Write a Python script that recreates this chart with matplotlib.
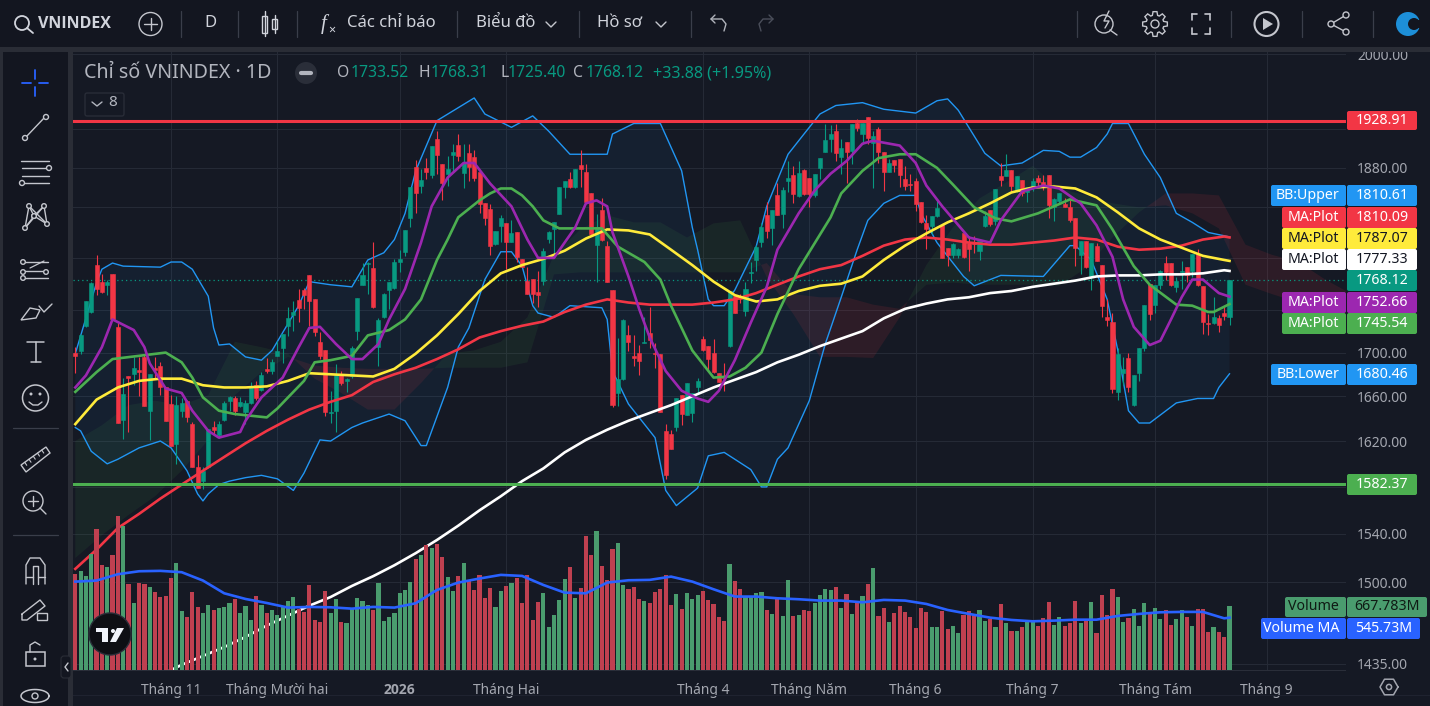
import matplotlib
matplotlib.use('Agg')
import matplotlib.pyplot as plt
import numpy as np
from matplotlib.patches import Rectangle, Circle, FancyBboxPatch, Polygon
from matplotlib.ticker import NullLocator, NullFormatter

plt.rcParams['font.family'] = ['Noto Sans', 'DejaVu Sans']

# daily candles
opens = [1700,1701,1725,1738,1783,1767,1764,1774,1724,1639,1678,1680,1684,1696,1647,1686,1688,1668,1653,1617,
         1647,1656,1635,1597,1585,1597,1632,1625,1639,1656,1658,1651,1646,1654,1670,1666,1685,1683,1697,1704,
         1725,1735,1749,1759,1773,1750,1710,1702,1645,1647,1680,1674,1678,1720,1764,1784,1780,1705,1733,1759,
         1761,1786,1796,1829,1881,1862,1880,1873,1910,1884,1874,1893,1904,1875,1895,1891,1876,1844,1838,1804,
         1821,1824,1806,1815,1789,1768,1770,1757,1768,1809,1818,1833,1861,1869,1860,1883,1876,1854,1803,1837,
         1802,1759,1663,1676,1716,1697,1700,1709,1718,1700,1699,1629,1626,1632,1661,1643,1645,1668,1713,1706,
         1700,1681,1678,1706,1753,1753,1739,1775,1788,1806,1832,1819,1852,1833,1867,1873,1851,1878,1870,1852,
         1880,1896,1910,1918,1891,1907,1897,1927,1915,1933,1906,1920,1896,1876,1888,1889,1869,1864,1867,1845,
         1824,1821,1831,1822,1800,1793,1793,1814,1805,1805,1797,1821,1837,1826,1872,1872,1878,1856,1868,1855,
         1859,1870,1866,1873,1840,1846,1843,1840,1829,1793,1807,1772,1802,1783,1733,1729,1664,1681,1695,1652,
         1681,1704,1765,1745,1764,1785,1785,1762,1776,1781,1777,1794,1763,1728,1728,1732,1737,1733.52]
highs = [1705,1717,1748,1767,1793,1774,1769,1774,1728,1677,1678,1696,1696,1699,1680,1696,1691,1668,1661,1660,
         1658,1657,1637,1608,1597,1631,1638,1638,1656,1660,1660,1659,1657,1673,1674,1682,1695,1694,1711,1717,
         1743,1748,1760,1761,1773,1750,1719,1702,1665,1689,1683,1677,1706,1751,1785,1786,1806,1732,1756,1767,
         1789,1798,1817,1860,1888,1879,1890,1903,1918,1884,1892,1905,1915,1905,1905,1898,1876,1844,1843,1816,
         1832,1824,1827,1815,1789,1781,1770,1777,1800,1816,1825,1860,1867,1876,1879,1898,1884,1854,1833,1849,
         1807,1759,1714,1731,1726,1716,1707,1733,1743,1709,1699,1635,1630,1658,1661,1672,1663,1677,1715,1706,
         1713,1681,1690,1758,1753,1755,1767,1786,1803,1824,1845,1837,1865,1860,1887,1882,1887,1879,1870,1874,
         1890,1925,1924,1926,1910,1907,1925,1931,1927,1933,1918,1922,1896,1889,1888,1889,1882,1874,1870,1845,
         1832,1831,1847,1822,1800,1805,1800,1814,1811,1811,1807,1836,1837,1858,1885,1894,1878,1872,1868,1860,
         1870,1873,1873,1873,1849,1854,1849,1847,1829,1807,1807,1805,1805,1783,1750,1737,1704,1696,1700,1679,
         1704,1745,1765,1764,1778,1792,1785,1771,1787,1781,1794,1799,1763,1736,1752,1735,1744,1768.31]
lows = [1681,1699,1724,1737,1754,1756,1754,1731,1636,1622,1628,1670,1660,1651,1621,1676,1661,1638,1616,1600,
        1641,1637,1597,1579,1578,1596,1625,1623,1638,1647,1643,1650,1635,1653,1657,1665,1681,1680,1697,1690,
        1715,1720,1729,1741,1725,1715,1694,1642,1636,1628,1670,1664,1677,1712,1764,1755,1742,1688,1732,1741,
        1760,1776,1792,1820,1834,1854,1869,1870,1874,1847,1862,1877,1887,1859,1867,1867,1834,1822,1793,1803,
        1806,1779,1806,1786,1781,1755,1747,1743,1764,1805,1793,1833,1849,1859,1859,1860,1845,1812,1767,1807,
        1767,1650,1651,1675,1701,1688,1679,1709,1704,1686,1646,1587,1613,1629,1634,1643,1637,1663,1701,1683,
        1681,1673,1665,1705,1737,1747,1734,1766,1777,1801,1810,1803,1832,1819,1855,1844,1850,1852,1840,1850,
        1869,1896,1896,1887,1874,1865,1884,1918,1905,1905,1859,1885,1856,1876,1876,1861,1857,1856,1836,1824,
        1799,1813,1830,1790,1782,1790,1790,1790,1777,1795,1788,1820,1821,1822,1862,1872,1856,1855,1851,1845,
        1856,1860,1857,1829,1826,1843,1840,1825,1782,1774,1780,1759,1787,1733,1725,1663,1657,1670,1664,1651,
        1674,1701,1730,1737,1760,1769,1763,1757,1760,1767,1771,1763,1717,1716,1727,1719,1730,1725.40]
closes = [1697,1716,1748,1766,1760,1757,1767,1731,1636,1662,1677,1686,1682,1651,1680,1684,1668,1638,1616,1652,
          1654,1641,1597,1579,1594,1631,1630,1635,1654,1659,1647,1655,1654,1668,1658,1679,1683,1691,1701,1717,
          1732,1738,1742,1754,1748,1719,1697,1646,1646,1679,1672,1676,1704,1751,1773,1785,1743,1730,1755,1767,
          1786,1789,1817,1860,1854,1868,1876,1903,1893,1865,1879,1896,1892,1885,1881,1870,1843,1829,1802,1816,
          1829,1806,1814,1791,1781,1755,1755,1754,1797,1815,1825,1860,1867,1860,1879,1879,1845,1813,1820,1808,
          1767,1652,1676,1730,1710,1695,1692,1710,1712,1699,1646,1590,1613,1658,1644,1672,1663,1674,1702,1694,
          1682,1673,1677,1758,1737,1750,1760,1776,1801,1820,1816,1837,1832,1857,1870,1853,1875,1853,1853,1874,
          1890,1909,1915,1895,1900,1896,1925,1921,1927,1911,1913,1896,1876,1885,1883,1873,1862,1863,1843,1825,
          1818,1831,1839,1790,1793,1804,1799,1791,1799,1804,1807,1831,1823,1858,1868,1878,1862,1872,1854,1860,
          1867,1866,1862,1842,1848,1854,1840,1827,1800,1807,1781,1805,1787,1744,1730,1667,1699,1685,1668,1679,
          1704,1745,1736,1764,1777,1776,1764,1768,1777,1773,1794,1764,1729,1727,1733,1726,1734,1768.12]
volumes = [1002,1034,981,1208,1472,1096,1075,1201,1608,1503,898,699,908,898,867,814,762,773,960,1117,
           616,553,814,658,595,679,626,647,658,699,741,595,668,522,773,679,595,626,574,658,
           720,762,637,606,887,522,501,825,595,741,501,491,637,752,720,679,626,908,512,553,
           595,804,835,919,1159,1201,1305,1274,1315,1180,971,825,981,1117,940,835,992,752,856,658,
           825,877,908,960,699,992,522,710,804,449,574,731,950,1075,752,856,1399,1201,1451,1086,
           940,1263,1326,887,846,867,741,720,699,814,846,992,679,793,637,804,741,783,825,731,
           689,553,512,1107,929,846,773,773,804,814,626,585,752,564,940,564,574,626,616,699,
           783,846,835,867,647,793,585,699,773,898,1065,564,647,501,595,668,606,553,438,647,
           606,449,449,616,428,459,386,574,616,585,626,512,532,449,689,491,407,407,449,512,
           512,459,543,710,470,553,459,491,720,491,512,710,386,783,574,846,762,501,543,637,
           459,699,592,647,532,626,470,532,626,553,459,637,637,397,449,397,345,667.783]

# bands and the two short averages, read at the bars where the curve bends
upper_bars = [0,4,5,7,9,16,18,20,22,25,26,27,29,32,35,37,42,44,48,52,55,58,60,62,64,68,75,77,82,86,89,93,100,101,105,
              110,114,116,117,119,120,122,124,128,130,134,137,140,143,148,152,158,162,164,166,171,174,178,182,185,
              187,189,192,194,195,198,201,204,207,210,213,217]
bb_upper = [1699,1766,1779,1785,1782,1781,1786,1786,1779,1753,1723,1707,1708,1696,1693,1702,1744,1767,1764,1762,1788,
            1795,1808,1834,1877,1929,1953,1936,1922,1934,1918,1894,1894,1915,1926,1926,1877,1820,1798,1750,1744,1744,
            1759,1801,1841,1894,1915,1936,1945,1948,1941,1937,1950,1952,1940,1895,1882,1885,1898,1897,1891,1891,1901,
            1915,1926,1926,1894,1870,1834,1825,1815,1810.61]
lower_bars = [0,1,3,6,7,8,12,16,18,21,23,24,25,27,29,32,35,38,41,43,46,48,52,54,59,62,65,66,70,72,74,77,80,82,84,86,87,
              90,93,99,100,101,104,109,111,113,117,119,122,124,127,129,130,132,134,138,141,144,147,149,152,155,158,159,
              162,167,169,174,182,187,188,191,194,196,198,200,202,207,211,214,215,217]
bb_lower = [1632,1629,1611,1600,1602,1604,1614,1620,1614,1594,1574,1568,1574,1582,1585,1588,1590,1587,1577,1592,1621,
            1620,1632,1636,1644,1638,1616,1616,1668,1705,1723,1769,1796,1796,1782,1744,1737,1733,1744,1742,1731,1683,
            1653,1623,1577,1564,1579,1607,1610,1604,1595,1580,1580,1604,1614,1656,1708,1752,1798,1827,1844,1852,1852,
            1834,1805,1772,1763,1773,1772,1802,1802,1788,1750,1702,1647,1636,1636,1654,1658,1658,1668,1680.46]
purple_bars = [0,2,5,7,11,13,14,17,20,22,25,27,31,32,35,39,42,44,46,49,52,54,57,59,62,65,67,70,73,75,78,82,85,87,90,92,
               94,96,98,100,101,104,106,108,111,114,117,119,121,124,127,130,132,136,139,142,145,148,150,155,158,160,163,
               168,172,174,178,182,185,189,192,195,197,199,202,204,206,208,210,212,215,217]
ma_purple = [1668,1679,1705,1731,1721,1705,1690,1667,1663,1647,1629,1623,1628,1638,1659,1677,1705,1723,1724,1708,1694,
             1694,1708,1731,1760,1805,1841,1870,1885,1885,1864,1841,1808,1790,1790,1805,1820,1844,1847,1841,1815,1772,
             1741,1714,1683,1665,1658,1655,1665,1693,1728,1762,1798,1834,1857,1874,1887,1905,1908,1903,1885,1862,1841,
             1810,1805,1827,1856,1862,1859,1844,1822,1791,1750,1724,1707,1711,1731,1752,1769,1769,1756,1752.66]
green_bars = [0,4,7,12,17,20,22,24,27,30,36,38,40,43,45,48,52,55,59,62,65,68,70,72,76,78,80,82,84,86,88,91,99,102,107,
              110,112,116,120,123,126,129,132,136,142,144,148,151,155,158,162,165,169,173,176,181,187,192,195,199,202,
              207,210,213,214,217]
ma_green = [1664,1682,1694,1697,1700,1691,1677,1659,1647,1644,1641,1649,1659,1674,1691,1693,1697,1716,1721,1731,1750,
            1788,1808,1830,1847,1854,1859,1859,1852,1841,1827,1819,1819,1801,1786,1769,1744,1702,1677,1678,1686,1700,
            1736,1779,1830,1854,1877,1890,1894,1894,1880,1863,1840,1829,1826,1834,1848,1842,1818,1782,1764,1745,1744,
            1738,1738,1745.54]

# slower lines, read every fourth bar plus the last one
line_bars = list(range(0, 217, 4)) + [217]
ma_yellow = [1635,1657,1668,1674,1676,1676,1670,1668,1668,1669,1674,1681,1680,1679,1678,1685,1699,1716,1736,1758,
             1775,1783,1789,1797,1809,1818,1817,1813,1798,1783,1767,1754,1748,1750,1758,1763,1765,1772,1788,1802,
             1814,1825,1834,1844,1855,1860,1861,1859,1850,1835,1819,1808,1800,1792,1788,1787.07]
ma_red = [1511,1527,1545,1557,1570,1582,1594,1606,1618,1629,1639,1648,1655,1661,1673,1680,1686,1694,1703,1714,
          1720,1725,1729,1738,1745,1750,1747,1745,1745,1745,1747,1750,1756,1764,1772,1779,1783,1792,1802,1808,
          1810,1808,1805,1803,1803,1805,1807,1810,1808,1801,1798,1799,1802,1808,1811,1810.09]
# the long average only enters the picture from the fifth reading on
ma_white = [1426,1434,1441,1448,1456,1465,1473,1481,1488,1497,1505,1514,1524,1535,1547,1560,1572,1585,1596,1610,
            1621,1630,1638,1645,1652,1660,1668,1675,1682,1691,1698,1706,1713,1720,1732,1741,1746,1750,1752,1756,
            1758,1762,1765,1768,1772,1773,1773,1774,1774,1775,1778,1777.33]
vol_ma = [922,933,999,1030,1034,1020,933,800,741,699,651,658,654,640,658,651,696,835,912,954,
          992,981,887,807,800,912,936,940,974,922,842,766,766,748,738,724,724,706,731,724,
          689,626,585,546,522,508,515,525,525,564,585,602,606,606,539,545.73]

# cloud, read every fifth bar, runs on past the last candle
cloud_bars = list(range(0, 245, 5))
span_a = [1620,1634,1652,1656,1652,1661,1710,1705,1699,1676,1663,1648,1648,1672,1699,1702,1710,1733,1793,1818,
          1832,1825,1825,1810,1824,1827,1771,1736,1696,1696,1695,1733,1783,1820,1849,1865,1882,1859,1852,1844,
          1840,1842,1834,1819,1764,1755,1747,1741,1736]
span_b = [1520,1539,1556,1572,1594,1621,1661,1682,1696,1688,1686,1685,1685,1685,1686,1686,1686,1691,1774,1776,
          1776,1776,1776,1776,1776,1776,1785,1755,1752,1752,1745,1741,1764,1766,1764,1764,1764,1763,1780,1810,
          1835,1854,1854,1852,1803,1793,1786,1769,1755]

grid_prices = [2000,1920,1880,1840,1790,1740,1700,1660,1620,1580,1540,1500,1435]
hidden_ticks = [1920,1840,1790,1740,1580]
month_bars = [18,38,61,81,118,138,158,180,203,224]
month_labels = ['Tháng 11','Tháng Mười hai','2026','Tháng Hai','Tháng 4','Tháng Năm','Tháng 6','Tháng 7','Tháng Tám','Tháng 9']

BG = '#151924'
PANEL = '#131620'
GAP = '#2a2d36'
UP = '#089981'
DOWN = '#f23645'
TXT = '#d1d4dc'
AXT = '#a3a6af'

W, H = 1430, 706
fig = plt.figure(figsize=(W / 100, H / 100), dpi=100, facecolor=BG)
ax = fig.add_axes([73 / W, (H - 670) / H, (1346 - 73) / W, 620 / H], facecolor=BG)
ax.set_yscale('log')
ax.set_xlim(-0.43, 238.9)
ax.set_ylim(1430, 2004.7)
ax.yaxis.tick_right()
ax.yaxis.set_minor_locator(NullLocator())
ax.yaxis.set_minor_formatter(NullFormatter())
ax.set_yticks(grid_prices)
ax.set_yticklabels(['' if p in hidden_ticks else '%.2f' % p for p in grid_prices], fontsize=10, color=AXT)
ax.set_xticks(month_bars)
ax.set_xticklabels(month_labels, fontsize=10, color=AXT)
ax.get_xticklabels()[2].set_family('Open Sans')
ax.get_xticklabels()[2].set_fontweight('bold')
ax.tick_params(axis='both', length=0)
ax.tick_params(axis='y', pad=8)
ax.tick_params(axis='x', pad=9)
ax.grid(True, color='#252a36', lw=0.8)
ax.set_axisbelow(True)
for s in ax.spines.values():
    s.set_visible(False)

# cloud and bands
span_a_arr = np.array(span_a, float)
span_b_arr = np.array(span_b, float)
ax.fill_between(cloud_bars, span_a_arr, span_b_arr, where=span_a_arr >= span_b_arr, interpolate=True,
                color='#4caf50', alpha=0.09, lw=0, zorder=1)
ax.fill_between(cloud_bars, span_a_arr, span_b_arr, where=span_a_arr <= span_b_arr, interpolate=True,
                color='#f23645', alpha=0.11, lw=0, zorder=1)
ax.fill(upper_bars + lower_bars[::-1], bb_upper + bb_lower[::-1], color='#2196f3', alpha=0.06, lw=0, zorder=1)
ax.plot(upper_bars, bb_upper, color='#2196f3', lw=1.0, zorder=2)
ax.plot(lower_bars, bb_lower, color='#2196f3', lw=1.0, zorder=2)

# candles
bars = np.arange(len(closes))
o = np.array(opens)
c = np.array(closes)
cols = [UP if c[i] >= o[i] else DOWN for i in bars]
ax.vlines(bars, lows, highs, colors=cols, lw=0.8, zorder=3)
ax.bar(bars, np.abs(c - o), bottom=np.minimum(o, c), width=0.76, color=cols, edgecolor=cols, lw=0.4, zorder=3)

# moving averages
MA_W = 1.9
ax.plot(line_bars[4:], ma_white, color='#ffffff', lw=MA_W, zorder=4, solid_joinstyle='round')
ax.plot(line_bars, ma_red, color='#f23645', lw=MA_W, zorder=4, solid_joinstyle='round')
ax.plot(line_bars, ma_yellow, color='#ffeb3b', lw=MA_W, zorder=4, solid_joinstyle='round')
ax.plot(green_bars, ma_green, color='#4caf50', lw=MA_W, zorder=4, solid_joinstyle='round')
ax.plot(purple_bars, ma_purple, color='#9c27b0', lw=MA_W, zorder=4, solid_joinstyle='round')

# levels
ax.axhline(1928.91, color='#f23645', lw=2.2, zorder=5)
ax.axhline(1582.37, color='#4caf50', lw=2.2, zorder=5)
ax.axhline(closes[-1], color=UP, lw=0.9, ls=(0, (1, 2.5)), zorder=2)

# volume pane shares the same box and sits on top of the price lines
ax_vol = fig.add_axes(ax.get_position(), sharex=ax)
ax_vol.patch.set_visible(False)
ax_vol.set_ylim(0, 620 * 10.43)
ax_vol.axis('off')
vol_cols = ['#4a9c6e' if c[i] >= o[i] else '#bf4050' for i in bars]
ax_vol.bar(bars, volumes, width=0.78, color=vol_cols, lw=0, zorder=1)
ax_vol.plot(line_bars, vol_ma, color='#2962ff', lw=MA_W, zorder=2, solid_joinstyle='round')

# everything around the plot, drawn in picture pixels
ui = fig.add_axes([0, 0, 1, 1], facecolor='none', zorder=10)
ui.set_xlim(0, W)
ui.set_ylim(H, 0)
ui.axis('off')


def box(x0, y0, x1, y1, color, z=1):
    ui.add_patch(Rectangle((x0, y0), x1 - x0, y1 - y0, fc=color, ec='none', zorder=z))


def rbox(x0, y0, x1, y1, color, z=3):
    ui.add_patch(FancyBboxPatch((x0 + 2, y0 + 2), x1 - x0 - 4, y1 - y0 - 4, boxstyle='round,pad=2,rounding_size=2',
                                fc=color, ec='none', zorder=z))


def seg(pts, color='#c4c6cd', lw=1.0, z=5):
    xs, ys = zip(*pts)
    ui.plot(xs, ys, color=color, lw=lw, zorder=z, solid_capstyle='round')


def ring(x, y, r, color='#c4c6cd', lw=1.0, fc='none', z=5):
    ui.add_patch(Circle((x, y), r, fc=fc, ec=color, lw=lw, zorder=z))


def txt(x, y, s, color=TXT, size=10, ha='left', weight='normal', z=6):
    ui.text(x, y, s, color=color, fontsize=size, ha=ha, va='center', fontweight=weight, zorder=z)


box(0, 0, W, 47, PANEL)
box(0, 47, W, 52, GAP)
box(0, 52, 3, H, GAP)
box(3, 52, 68, H, PANEL)
box(68, 52, 73, H, GAP)
box(73, 670, 1346, 671, '#2a2e39')
box(73, 695, W, 696, '#1f2330')

# top bar
ring(22, 23, 7, color=TXT, lw=1.3)
seg([(27, 28), (33, 33)], TXT, 1.3)
ui.text(38, 24, 'VNINDEX', color=TXT, fontsize=11.5, va='center', fontweight='bold', family='Open Sans', zorder=6)
ring(150.5, 24, 11.5)
seg([(144, 24), (157, 24)])
seg([(150.5, 18), (150.5, 30)])
for sx in [181, 238, 297, 457, 579, 691, 1077, 1231, 1302, 1373]:
    seg([(sx, 11), (sx, 37)], '#3a3e4a', 0.9)
txt(210, 23, 'D', TXT, 12, ha='center')
ui.add_patch(Rectangle((262, 16), 5, 17, fc='none', ec=TXT, lw=1.0, zorder=5))
seg([(264.5, 11), (264.5, 36)], TXT, 1.0)
ui.add_patch(Rectangle((272, 19), 5, 10, fc='none', ec=TXT, lw=1.0, zorder=5))
seg([(274.5, 15), (274.5, 33)], TXT, 1.0)
ui.text(321, 24, 'f', color=TXT, fontsize=15, style='italic', ha='left', va='center', zorder=6, family='Liberation Serif')
txt(328, 30, '×', TXT, 9)
txt(347, 23, 'Các chỉ báo', TXT, 12)
txt(476, 23, 'Biểu đồ', TXT, 12)
seg([(546, 22), (551, 27), (556, 22)])
txt(597, 23, 'Hồ sơ', TXT, 12)
seg([(656, 22), (661, 27), (666, 22)])
seg([(711, 19), (722, 19), (726, 24), (724, 31)], '#b0b3bb')
seg([(715, 15), (711, 19), (715, 23)], '#b0b3bb')
seg([(773, 19), (763, 19), (759, 24), (761, 31)], '#4a4e5a')
seg([(769, 15), (773, 19), (769, 23)], '#4a4e5a')
ring(1104, 24, 9)
seg([(1110, 30), (1117, 35)])
seg([(1109, 11), (1104, 21), (1109, 21), (1105, 28)], '#c4c6cd', 1.0)
gear = []
for k in range(8):
    for da, rad in [(-17, 9), (-9, 12.5), (9, 12.5), (17, 9)]:
        a = np.deg2rad(45 * k + da)
        gear.append((1155 + rad * np.cos(a), 24 + rad * np.sin(a)))
ui.add_patch(Polygon(gear, fc='none', ec='#c4c6cd', lw=1.0, zorder=5))
ring(1155, 24, 4)
for a, b in [((1192, 20), (1192, 14)), ((1210, 20), (1210, 14)), ((1192, 28), (1192, 34)), ((1210, 28), (1210, 34))]:
    seg([a, b], lw=1.2)
seg([(1192, 14), (1197, 14)], lw=1.2)
seg([(1205, 14), (1210, 14)], lw=1.2)
seg([(1192, 34), (1197, 34)], lw=1.2)
seg([(1205, 34), (1210, 34)], lw=1.2)
ring(1266.5, 24, 12, lw=1.5)
ui.add_patch(Polygon([(1263, 18), (1263, 30), (1273, 24)], fc='#c4c6cd', ec='none', zorder=5))
seg([(1331, 24), (1346, 15)])
seg([(1331, 24), (1346, 32)])
ring(1331, 24, 3, fc=PANEL, z=6)
ring(1346, 15, 3, fc=PANEL, z=6)
ring(1346, 32, 3, fc=PANEL, z=6)
ring(1408, 24, 12, color='none', fc='#1d8fd8')
ring(1414, 24, 6, color='none', fc=PANEL, z=6)
box(1416, 20, 1421, 28, PANEL, z=6)

# left bar
seg([(22, 83), (31, 83)], '#2962ff', 1.3)
seg([(39, 83), (48, 83)], '#2962ff', 1.3)
seg([(35, 70), (35, 79)], '#2962ff', 1.3)
seg([(35, 87), (35, 96)], '#2962ff', 1.3)
seg([(26, 137), (45, 117)])
ring(25, 138, 2.5, fc=PANEL, z=6)
ring(46, 117, 2.5, fc=PANEL, z=6)
for ly, x0, x1 in [(161, 21, 49), (168, 22, 48), (176, 22, 49), (183, 24, 49)]:
    seg([(x0, ly), (x1, ly)])
ring(49, 168, 2.5, fc=PANEL, z=6)
ring(22, 183, 2.5, fc=PANEL, z=6)
pat = [(25, 228), (29, 206), (34, 216), (44, 206), (47, 224), (34, 216), (25, 228)]
seg(pat)
seg([(29, 206), (47, 224)])
seg([(44, 206), (25, 228)])
for px, py in pat[:-1]:
    ring(px, py, 2.3, fc=PANEL, z=6)
for ly, x0, x1 in [(212 + 50, 24, 48), (271, 24, 46), (278, 24, 48)]:
    seg([(x0, ly), (x1, ly)])
seg([(30, 268), (44, 261)], lw=0.9)
for px, py in [(23, 262), (23, 272), (23, 278), (46, 272)]:
    ring(px, py, 2.3, fc=PANEL, z=6)
ui.add_patch(Polygon([(21, 320), (30, 308), (40, 310), (36, 318)], fc='none', ec='#c4c6cd', lw=1.0, zorder=5))
seg([(39, 306), (44, 312), (52, 304)])
seg([(27, 342), (44, 342)], lw=1.1)
seg([(36, 342), (36, 362)], lw=1.1)
seg([(31, 362), (41, 362)], lw=1.1)
ring(35.5, 398, 13, lw=1.1)
ring(31, 394, 0.8, fc='#c4c6cd')
ring(40, 394, 0.8, fc='#c4c6cd')
seg([(29, 402), (33, 405), (38, 405), (42, 402)])
for sy in [428, 535]:
    seg([(13, sy), (58, sy)], '#3a3e4a', 0.9)
ui.add_patch(Polygon([(21, 465), (46, 447), (50, 453), (26, 472)], fc='none', ec='#c4c6cd', lw=1.0, zorder=5))
for t in np.arange(0.15, 0.95, 0.17):
    mx, my = 21 + 25 * t, 465 - 18 * t
    seg([(mx, my), (mx + 2, my + 3)], lw=0.8)
ring(33, 501, 10)
seg([(40, 508), (46, 514)])
seg([(28, 501), (38, 501)])
seg([(33, 496), (33, 506)])
seg([(26, 584), (26, 565), (30, 558), (40, 558), (45, 565), (45, 584)])
seg([(33, 584), (33, 566), (38, 566), (38, 584)])
seg([(26, 577), (33, 577)])
seg([(38, 577), (45, 577)])
seg([(22, 614), (40, 600), (45, 606), (27, 620), (22, 620), (22, 614)])
ui.add_patch(Rectangle((37, 613), 10, 7, fc=PANEL, ec='#c4c6cd', lw=1, zorder=6))
ui.add_patch(Rectangle((26, 652), 19, 14, fc='none', ec='#c4c6cd', lw=1.1, zorder=5))
seg([(30, 652), (30, 645), (35, 642), (40, 645)])
ring(35, 659, 0.8, fc='#c4c6cd')
ui.add_patch(FancyBboxPatch((62, 657), 8, 20, boxstyle='round,pad=1,rounding_size=3', fc=PANEL, ec='#2a2d36', lw=0.8, zorder=6))
seg([(68, 663), (65, 667), (68, 671)], z=7)
theta = np.linspace(0, 2 * np.pi, 40)
ui.plot(35 + 14 * np.cos(theta), 696 + 6.5 * np.sin(theta), color='#c4c6cd', lw=1.1, zorder=5)
ring(35, 696, 3)

# legend header
txt(84, 73, 'Chỉ số VNINDEX · 1D', '#b2b5be', 14.2)
ring(306, 73, 11, color='none', fc='#2a2e39')
seg([(301, 73), (311, 73)], '#b2b5be', 3)
for lx, vx, name, val in [(337, 351, 'O', '1733.52'), (418, 431, 'H', '1768.31'), (501, 508, 'L', '1725.40'), (573, 586, 'C', '1768.12')]:
    txt(lx, 73, name, '#b2b5be', 11.3)
    txt(vx, 73, val, UP, 11.3)
txt(653, 73, '+33.88 (+1.95%)', UP, 11.6)
ui.add_patch(FancyBboxPatch((86, 94), 37, 21, boxstyle='round,pad=1,rounding_size=2', fc=BG, ec='#2a2e39', lw=0.9, zorder=5))
seg([(92, 102), (97, 106), (102, 102)], '#b2b5be', 1.0)
txt(108, 103, '8', '#b2b5be', 11)

# TradingView badge
ring(110, 634, 21, color='#2a2e39', fc='#0e0f14', lw=1.0)
box(96, 628, 108, 632, '#f0f3fa', z=6)
box(102, 628, 108, 642, '#f0f3fa', z=6)
ring(113, 631, 2, color='none', fc='#f0f3fa')
ui.add_patch(Polygon([(117, 628), (124, 628), (116, 642), (110, 642)], fc='#f0f3fa', ec='none', zorder=6))

# price scale tags
tags = [(1271, 185, 206, 'BB:Upper', '1810.61', '#2196f3', '#ffffff'),
        (1282, 207, 228, 'MA:Plot', '1810.09', '#f23645', '#ffffff'),
        (1282, 228, 249, 'MA:Plot', '1787.07', '#ffeb3b', '#131722'),
        (1282, 249, 270, 'MA:Plot', '1777.33', '#ffffff', '#131722'),
        (None, 270, 291, '', '1768.12', UP, '#ffffff'),
        (1282, 292, 313, 'MA:Plot', '1752.66', '#9c27b0', '#ffffff'),
        (1282, 313, 334, 'MA:Plot', '1745.54', '#4caf50', '#ffffff'),
        (1271, 364, 385, 'BB:Lower', '1680.46', '#2196f3', '#ffffff'),
        (None, 111, 130, '', '1928.91', '#f23645', '#ffffff'),
        (None, 474, 495, '', '1582.37', '#4caf50', '#ffffff')]
for x0, y0, y1, name, val, col, fg in tags:
    if x0 is not None:
        rbox(x0, y0, 1346, y1, col)
        txt(1339, (y0 + y1) / 2, name, fg, 10.2, ha='right')
    rbox(1347, y0, 1417, y1, col)
    txt(1382, (y0 + y1) / 2, val, fg, 10.2, ha='center')
rbox(1285, 597, 1346, 617, '#4a9c6e')
txt(1339, 607, 'Volume', '#0f1a14', 10.2, ha='right')
rbox(1347, 597, 1427, 617, '#4a9c6e')
txt(1387, 607, '667.783M', '#0f1a14', 10.2, ha='center')
rbox(1261, 618, 1346, 639, '#2962ff')
txt(1339, 628, 'Volume MA', '#ffffff', 10.2, ha='right')
rbox(1347, 618, 1420, 639, '#2962ff')
txt(1384, 628, '545.73M', '#ffffff', 10.2, ha='center')

hexa = [(1389 + 9 * np.cos(a), 687 + 9 * np.sin(a)) for a in np.deg2rad([0, 60, 120, 180, 240, 300, 360])]
seg(hexa, AXT, 1.1)
ring(1389, 687, 2.6, color=AXT, lw=1.1)

fig.savefig('out.png', dpi=100, facecolor=BG)
